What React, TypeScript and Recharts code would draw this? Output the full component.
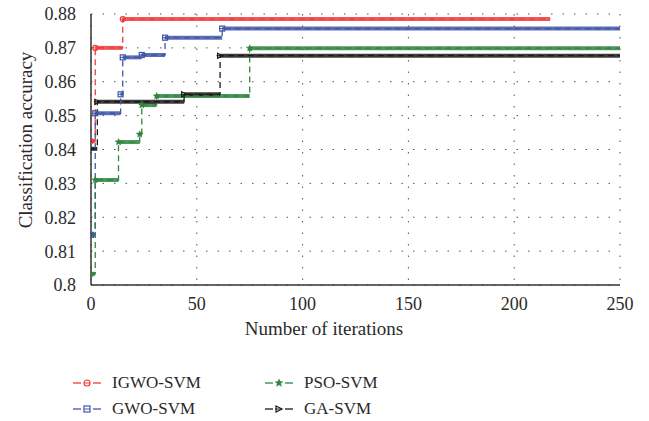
import { LineChart, Line, XAxis, YAxis, CartesianGrid, ReferenceLine, Label } from "recharts"

// step change points
const igwoIter = [0, 2, 15, 217]
const igwoAcc = [0.8425, 0.87, 0.8785, 0.8785]

const gwoIter = [0, 2, 14, 15, 24, 35, 62, 250]
const gwoAcc = [0.8148, 0.8507, 0.8563, 0.8672, 0.8679, 0.873, 0.8757, 0.8757]

const psoIter = [0, 2, 13, 23, 24, 31, 75, 250]
const psoAcc = [0.8033, 0.831, 0.8422, 0.8445, 0.8531, 0.8558, 0.8699, 0.8699]

const gaIter = [0, 3, 44, 61, 250]
const gaAcc = [0.8402, 0.8541, 0.8563, 0.8677, 0.8677]

const xTicks = [0, 50, 100, 150, 200, 250]
const yTicks = [0.8, 0.81, 0.82, 0.83, 0.84, 0.85, 0.86, 0.87, 0.88]
const yTickLabels = ["0.8", "0.81", "0.82", "0.83", "0.84", "0.85", "0.86", "0.87", "0.88"]

const FONT = '"Liberation Serif", "Times New Roman", serif'
const TEXT = "#2a2a2a"

type Shape = "circle" | "square" | "star" | "triangle"

const series: { name: string; color: string; shape: Shape; iter: number[]; acc: number[] }[] = [
  { name: "IGWO-SVM", color: "#ee3b3b", shape: "circle", iter: igwoIter, acc: igwoAcc },
  { name: "GWO-SVM", color: "#3f56a8", shape: "square", iter: gwoIter, acc: gwoAcc },
  { name: "PSO-SVM", color: "#2e8540", shape: "star", iter: psoIter, acc: psoAcc },
  { name: "GA-SVM", color: "#1a1a1a", shape: "triangle", iter: gaIter, acc: gaAcc },
]

function Marker({ cx, cy, shape, color, r = 3 }: { cx: number; cy: number; shape: Shape; color: string; r?: number }) {
  if (shape === "circle")
    return (
      <g>
        <circle cx={cx} cy={cy} r={r} fill="none" stroke={color} strokeWidth={1.2} />
        <line x1={cx - r} y1={cy} x2={cx + r} y2={cy} stroke={color} strokeWidth={1} />
      </g>
    )
  if (shape === "square")
    return (
      <g>
        <rect x={cx - r} y={cy - r} width={2 * r} height={2 * r} fill="none" stroke={color} strokeWidth={1.2} />
        <line x1={cx - r} y1={cy} x2={cx + r} y2={cy} stroke={color} strokeWidth={1} />
      </g>
    )
  if (shape === "star") {
    const pts: string[] = []
    for (let i = 0; i < 10; i++) {
      const rr = i % 2 === 0 ? r + 1 : (r + 1) * 0.45
      const a = -Math.PI / 2 + (i * Math.PI) / 5
      pts.push(`${cx + rr * Math.cos(a)},${cy + rr * Math.sin(a)}`)
    }
    return <polygon points={pts.join(" ")} fill={color} stroke={color} strokeWidth={0.5} />
  }
  return (
    <g>
      <polygon points={`${cx - r},${cy - r} ${cx + r},${cy} ${cx - r},${cy + r}`} fill="none" stroke={color} strokeWidth={1.2} />
      <line x1={cx - r - 1} y1={cy} x2={cx + r} y2={cy} stroke={color} strokeWidth={1} />
    </g>
  )
}

function LegendItem({ s }: { s: (typeof series)[number] }) {
  return (
    <div style={{ display: "flex", alignItems: "center", height: 26 }}>
      <svg width={30} height={14} style={{ marginRight: 9 }}>
        <line x1={0} y1={7} x2={8} y2={7} stroke={s.color} strokeWidth={1.3} />
        <line x1={20} y1={7} x2={28} y2={7} stroke={s.color} strokeWidth={1.3} />
        <Marker cx={14} cy={7} shape={s.shape} color={s.color} r={3} />
      </svg>
      <span style={{ fontFamily: FONT, fontSize: 17, color: TEXT }}>{s.name}</span>
    </div>
  )
}

export default function App() {
  return (
    <div style={{ position: "absolute", left: 0, top: 0, width: 649, height: 421, background: "#fff" }}>
      <LineChart width={649} height={345} margin={{ top: 14, right: 29, left: 0, bottom: 0 }}>
        <CartesianGrid stroke="#555" strokeDasharray="1.5 10" horizontalValues={yTicks} verticalValues={xTicks} />
        <XAxis
          type="number"
          dataKey="x"
          domain={[0, 250]}
          ticks={xTicks}
          height={60}
          tickLine={false}
          axisLine={{ stroke: "#333", strokeWidth: 1.5 }}
          tick={{ fontFamily: FONT, fontSize: 18, fill: TEXT }}
          tickMargin={6}
          allowDataOverflow
        >
          <Label
            content={({ viewBox }: any) => (
              <text x={viewBox.x + 233} y={viewBox.y + 43} textAnchor="middle" dominantBaseline="central" fontFamily={FONT} fontSize={19} fill={TEXT}>
                Number of iterations
              </text>
            )}
          />
        </XAxis>
        <YAxis
          type="number"
          domain={[0.8, 0.88]}
          ticks={yTicks}
          width={91}
          tickLine={false}
          axisLine={{ stroke: "#333", strokeWidth: 1.5 }}
          tick={{ fontFamily: FONT, fontSize: 18, fill: TEXT }}
          tickFormatter={(v: number) => yTickLabels[yTicks.indexOf(v)] ?? String(v)}
          tickMargin={9}
          allowDataOverflow
        >
          <Label
            content={({ viewBox }: any) => (
              <text
                x={25}
                y={viewBox.y + 126}
                textAnchor="middle"
                dominantBaseline="central"
                transform={`rotate(-90 25 ${viewBox.y + 126})`}
                fontFamily={FONT}
                fontSize={19}
                fill={TEXT}
              >
                Classification accuracy
              </text>
            )}
          />
        </YAxis>
        {series.map((s) =>
          s.iter.slice(0, -1).map((x, i) => (
            <ReferenceLine
              key={`${s.name}-seg-${i}`}
              segment={[
                { x, y: s.acc[i] },
                { x: s.iter[i + 1], y: s.acc[i] },
              ]}
              stroke={s.color}
              strokeWidth={4}
              strokeOpacity={0.85}
            />
          ))
        )}
        {series.map((s) => (
          <Line
            key={s.name}
            data={s.iter.map((x, i) => ({ x, y: s.acc[i] }))}
            dataKey="y"
            name={s.name}
            type="stepAfter"
            stroke={s.color}
            strokeWidth={1.3}
            strokeDasharray="6 4"
            dot={(p: any) =>
              p.index === s.iter.length - 1 ? (
                <g key={`${s.name}-${p.index}`} />
              ) : (
                <Marker key={`${s.name}-${p.index}`} cx={p.cx} cy={p.cy} shape={s.shape} color={s.color} r={2.5} />
              )
            }
            isAnimationActive={false}
          />
        ))}
      </LineChart>
      <div style={{ position: "absolute", left: 73, top: 370, display: "flex" }}>
        <div style={{ width: 192 }}>
          <LegendItem s={series[0]} />
          <LegendItem s={series[1]} />
        </div>
        <div>
          <LegendItem s={series[2]} />
          <LegendItem s={series[3]} />
        </div>
      </div>
    </div>
  )
}
